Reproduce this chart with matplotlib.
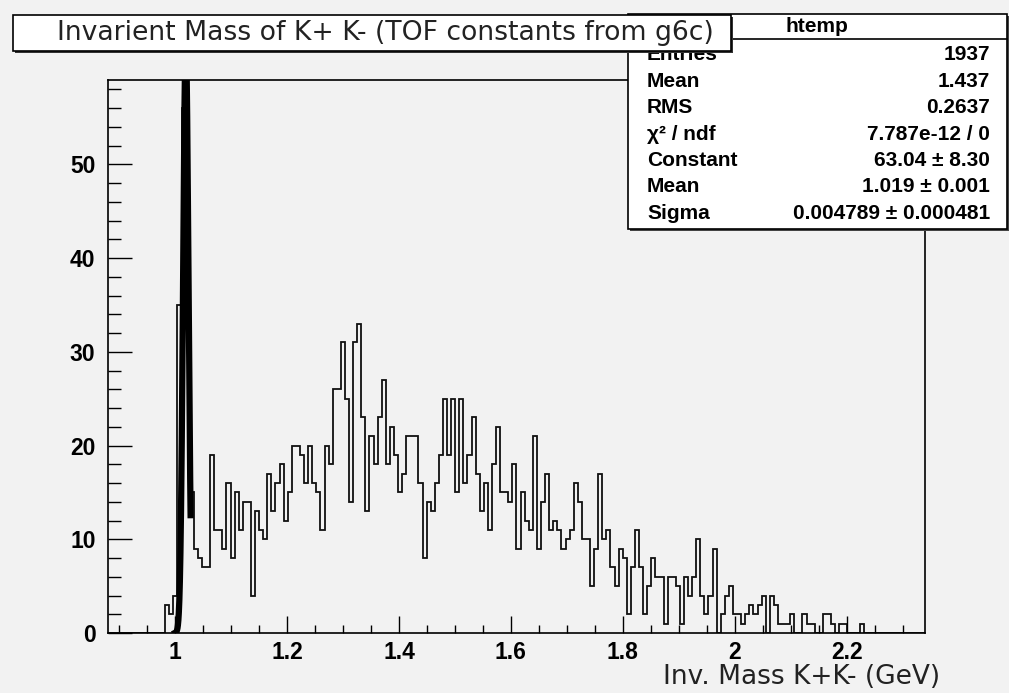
import numpy as np
import matplotlib
matplotlib.use("Agg")
import matplotlib.pyplot as plt
from matplotlib.patches import Rectangle
from matplotlib.ticker import MultipleLocator, FixedLocator

# histogram binning (htemp, 200 bins)
x_min, x_max, n_bins = 0.88, 2.34, 200

# bin contents, bins 14..184 (rest empty)
first_bin = 14
counts_read = [
    3, 2, 4, 35, 56, 35, 15, 9, 8, 7, 7, 19, 11, 11, 9, 16, 8, 15, 11, 14,
    14, 4, 13, 11, 10, 17, 13, 16, 18, 12, 15, 20, 20, 19, 16, 20, 16, 15, 11, 20,
    18, 26, 26, 31, 25, 14, 31, 33, 23, 13, 21, 18, 23, 27, 18, 22, 19, 15, 17, 21,
    21, 21, 16, 8, 14, 13, 16, 19, 25, 19, 25, 15, 25, 16, 19, 23, 17, 13, 16, 11,
    18, 22, 15, 15, 14, 18, 9, 15, 12, 11, 21, 9, 14, 17, 11, 12, 11, 9, 10, 11,
    16, 14, 10, 10, 5, 9, 17, 10, 11, 7, 5, 9, 8, 2, 7, 11, 7, 2, 5, 8,
    6, 6, 1, 6, 6, 5, 1, 6, 4, 6, 10, 4, 2, 4, 9, 0, 2, 4, 5, 2,
    2, 1, 2, 3, 2, 3, 4, 0, 4, 3, 1, 1, 1, 2, 0, 0, 2, 1, 1, 0,
    0, 2, 2, 1, 0, 1, 1, 0, 0, 0, 1,
]

# gaussian fit parameters (from the stats box)
fit_const, fit_mean, fit_sigma = 63.04, 1.019, 0.004789
fit_range = (1.0, 1.0276)

title = "Invarient Mass of K+ K- (TOF constants from g6c)"
x_label = "Inv. Mass K+K- (GeV)"
stats_name = "htemp"
stat_labels = ["Entries", "Mean", "RMS", "χ² / ndf", "Constant", "Mean", "Sigma"]
stat_values = ["1937", "1.437", "0.2637", "7.787e-12 / 0",
               "63.04 ± 8.30", "1.019 ± 0.001", "0.004789 ± 0.000481"]

W, H = 1009, 693
def fx(x): return x / W
def fy(y): return 1 - y / H

bg = "#f2f2f2"
fig = plt.figure(figsize=(W / 100, H / 100), dpi=100, facecolor=bg)
ax = fig.add_axes([fx(108), fy(633), fx(925 - 108), (633 - 80) / H])
ax.set_facecolor(bg)

counts = np.zeros(n_bins)
counts[first_bin:first_bin + len(counts_read)] = counts_read
edges = np.linspace(x_min, x_max, n_bins + 1)
ax.stairs(counts, edges, color="#111111", lw=1.3)

xf = np.linspace(*fit_range, 300)
ax.plot(xf, fit_const * np.exp(-0.5 * ((xf - fit_mean) / fit_sigma) ** 2),
        color="black", lw=4.5)

ax.set_xlim(x_min, x_max)
ax.set_ylim(0, 59)

ax.xaxis.set_major_locator(FixedLocator([1.0, 1.2, 1.4, 1.6, 1.8, 2.0, 2.2]))
ax.set_xticklabels(["1", "1.2", "1.4", "1.6", "1.8", "2", "2.2"])
ax.xaxis.set_minor_locator(MultipleLocator(0.05))
ax.yaxis.set_major_locator(MultipleLocator(10))
ax.yaxis.set_minor_locator(MultipleLocator(2))

for lab in ax.get_xticklabels() + ax.get_yticklabels():
    lab.set_fontfamily("Liberation Sans")
    lab.set_fontweight("bold")
    lab.set_fontsize(16.5)

ax.tick_params(axis="x", which="major", direction="in", length=12, width=1, pad=6)
ax.tick_params(axis="x", which="minor", direction="in", length=6, width=1)
ax.tick_params(axis="y", which="major", direction="in", length=17.5, width=1, pad=9)
ax.tick_params(axis="y", which="minor", direction="in", length=9, width=1)
for s in ax.spines.values():
    s.set_linewidth(1.2)

fig.text(fx(940), fy(677), x_label, ha="right", va="center",
         family="DejaVu Sans", size=19, color="#222222")

# stats box
sx0, sy0, sx1, sy1 = 628, 14, 1007, 229
fig.patches.append(Rectangle((fx(sx0 + 2), fy(sy1 + 2)), fx(sx1 - sx0), (sy1 - sy0) / H,
                             transform=fig.transFigure, facecolor="#444444",
                             edgecolor="none", zorder=5))
fig.patches.append(Rectangle((fx(sx0), fy(sy1)), fx(sx1 - sx0), (sy1 - sy0) / H,
                             transform=fig.transFigure, facecolor="white",
                             edgecolor="black", lw=1.2, zorder=6))
fig.lines.append(plt.Line2D([fx(sx0), fx(sx1)], [fy(39), fy(39)],
                            transform=fig.transFigure, color="black", lw=1.2, zorder=7))
st_font = dict(family="Liberation Sans", weight="bold", size=15, zorder=8)
fig.text(fx(817), fy(27), stats_name, ha="center", va="center", **st_font)
for i, (lab, val) in enumerate(zip(stat_labels, stat_values)):
    y = 55 + i * 26.4
    fig.text(fx(647), fy(y), lab, ha="left", va="center", **st_font)
    fig.text(fx(990), fy(y), val, ha="right", va="center", **st_font)

# title box (drawn on top of the stats box)
tx0, ty0, tx1, ty1 = 13, 15, 731, 51
fig.patches.append(Rectangle((fx(tx0 + 2), fy(ty1 + 2)), fx(tx1 - tx0), (ty1 - ty0) / H,
                             transform=fig.transFigure, facecolor="#333333",
                             edgecolor="none", zorder=10))
fig.patches.append(Rectangle((fx(tx0), fy(ty1)), fx(tx1 - tx0), (ty1 - ty0) / H,
                             transform=fig.transFigure, facecolor="white",
                             edgecolor="black", lw=1.2, zorder=11))
fig.text(fx(385), fy(33), title, ha="center", va="center",
         family="DejaVu Sans", size=19.2, color="#222222", zorder=12)

fig.savefig("out.png", dpi=100, facecolor=bg)
